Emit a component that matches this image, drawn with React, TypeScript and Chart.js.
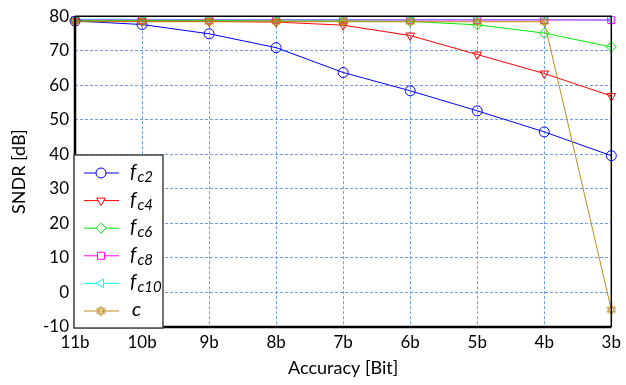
import React, { useEffect, useRef } from "react";
import { Chart, registerables } from "chart.js";
import { drawPoint } from "chart.js/helpers";

Chart.register(...registerables);

const categories = ["11b", "10b", "9b", "8b", "7b", "6b", "5b", "4b", "3b"];
const fc2 = [78.6, 77.6, 74.9, 70.9, 63.7, 58.4, 52.6, 46.5, 39.6];
const fc4 = [78.5, 78.5, 78.5, 78.3, 77.4, 74.4, 68.9, 63.4, 56.9];
const fc6 = [78.7, 78.7, 78.7, 78.6, 78.6, 78.5, 77.5, 75.1, 71.1];
const fc8 = [78.9, 78.9, 78.9, 78.9, 78.9, 78.9, 78.9, 78.9, 78.9];
const fc10 = [79.1, 79.1, 79.0, 79.0, 79.0, 79.0, 79.0, 79.0, 78.9];
const cVals = [78.4, 78.4, 78.4, 78.4, 78.4, 78.4, 78.4, 78.4, -5.0];
const yTicks = { min: -10, max: 80, step: 10 };

const FONT = "Lato, 'Open Sans', sans-serif";

function makeHexagram(color: string): HTMLCanvasElement {
  const cv = document.createElement("canvas");
  cv.width = 11;
  cv.height = 11;
  const ctx = cv.getContext("2d")!;
  ctx.strokeStyle = color;
  ctx.lineWidth = 1;
  const cx = 5.5, cy = 5.5, r = 4.8;
  for (const off of [-Math.PI / 2, Math.PI / 2]) {
    ctx.beginPath();
    for (let i = 0; i < 3; i++) {
      const a = off + (i * 2 * Math.PI) / 3;
      const x = cx + r * Math.cos(a);
      const y = cy + r * Math.sin(a);
      if (i === 0) ctx.moveTo(x, y);
      else ctx.lineTo(x, y);
    }
    ctx.closePath();
    ctx.stroke();
  }
  return cv;
}

export default function App() {
  const ref = useRef<HTMLCanvasElement | null>(null);
  useEffect(() => {
    if (!ref.current) return;
    const hex = makeHexagram("#bf8a1e");
    const series = [
      { sub: "c2", main: "f", data: fc2, color: "#0000ff", style: "circle", rot: 0 },
      { sub: "c4", main: "f", data: fc4, color: "#ff0000", style: "triangle", rot: 180 },
      { sub: "c6", main: "f", data: fc6, color: "#00ee00", style: "rectRot", rot: 0 },
      { sub: "c8", main: "f", data: fc8, color: "#ff00ff", style: "rect", rot: 0 },
      { sub: "c10", main: "f", data: fc10, color: "#00ffff", style: "triangle", rot: -90 },
      { sub: "", main: "c", data: cVals, color: "#bf8a1e", style: hex as any, rot: 0 },
    ];

    const frame = {
      id: "frame",
      afterDatasetsDraw(chart: any) {
        const { ctx, chartArea: a } = chart;
        ctx.save();
        ctx.strokeStyle = "#000";
        ctx.lineWidth = 1.5;
        ctx.beginPath();
        ctx.moveTo(a.left, a.top);
        ctx.lineTo(a.right, a.top);
        ctx.lineTo(a.right, a.bottom);
        ctx.stroke();
        ctx.lineWidth = 2.5;
        ctx.beginPath();
        ctx.moveTo(a.left, a.top);
        ctx.lineTo(a.left, a.bottom);
        ctx.lineTo(a.right, a.bottom);
        ctx.stroke();

        // legend
        const bx = a.left - 1, by = a.bottom - 172, bw = 89, bh = 173;
        ctx.fillStyle = "#fff";
        ctx.fillRect(bx, by, bw, bh);
        ctx.strokeStyle = "#444";
        ctx.lineWidth = 1.5;
        ctx.strokeRect(bx, by, bw, bh);
        series.forEach((s, i) => {
          const y = by + 18 + i * 27.6;
          ctx.strokeStyle = s.color;
          ctx.lineWidth = 1;
          ctx.beginPath();
          ctx.moveTo(bx + 10, y);
          ctx.lineTo(bx + 45, y);
          ctx.stroke();
          ctx.fillStyle = "#ffffff";
          ctx.strokeStyle = s.color;
          ctx.lineWidth = 1;
          drawPoint(ctx, { pointStyle: s.style, rotation: s.rot, radius: 5, borderWidth: 1 } as any, bx + 27, y);
          ctx.fillStyle = "#000";
          ctx.textBaseline = "alphabetic";
          ctx.textAlign = "left";
          ctx.font = `italic 20px ${FONT}`;
          const tx = s.sub ? bx + 56 : bx + 58;
          ctx.fillText(s.main, tx, y + 5);
          if (s.sub) {
            const w = ctx.measureText(s.main).width;
            ctx.font = `italic 15px ${FONT}`;
            ctx.fillText(s.sub, tx + w + 1, y + 9);
          }
        });
        ctx.restore();
      },
    };

    const chart = new Chart(ref.current, {
      type: "line",
      data: {
        labels: categories,
        datasets: series.map((s, i) => ({
          label: s.main + s.sub,
          data: s.data,
          borderColor: s.color,
          backgroundColor: "rgba(0,0,0,0)",
          pointBorderColor: s.color,
          pointBackgroundColor: "rgba(0,0,0,0)",
          pointStyle: s.style,
          pointRotation: s.rot,
          pointRadius: 5,
          pointBorderWidth: 1,
          borderWidth: 1,
          tension: 0,
          order: i === 5 ? -1 : i,
        })),
      },
      options: {
        animation: false,
        responsive: true,
        maintainAspectRatio: false,
        layout: { padding: { left: 0, right: 12, top: 14, bottom: 0 } },
        plugins: { legend: { display: false }, tooltip: { enabled: false } },
        scales: {
          x: {
            offset: false,
            grid: { color: "#6f9fe0", lineWidth: 1, tickLength: 0, drawTicks: false },
            border: { display: false, dash: [3, 2] },
            ticks: { color: "#000", font: { family: FONT, size: 17 }, padding: 5, maxRotation: 0 },
            title: { display: true, text: "Accuracy [Bit]", color: "#000", font: { family: FONT, size: 18 }, padding: { top: 0, bottom: 6 } },
            afterFit: (s: any) => { s.height = 58; },
          },
          y: {
            min: yTicks.min,
            max: yTicks.max,
            grid: { color: "#6f9fe0", lineWidth: 1, drawTicks: false },
            border: { display: false, dash: [3, 2] },
            ticks: { stepSize: yTicks.step, color: "#000", font: { family: FONT, size: 17 }, padding: 6 },
            title: { display: true, text: "SNDR [dB]", color: "#000", font: { family: FONT, size: 18 }, padding: { top: 8, bottom: 0 } },
            afterFit: (s: any) => { s.width = 75; },
          },
        },
      },
      plugins: [frame],
    } as any);
    return () => chart.destroy();
  }, []);
  return (
    <div style={{ position: "fixed", left: 0, top: 0, width: 626, height: 385, background: "#fff" }}>
      <canvas ref={ref} />
    </div>
  );
}
